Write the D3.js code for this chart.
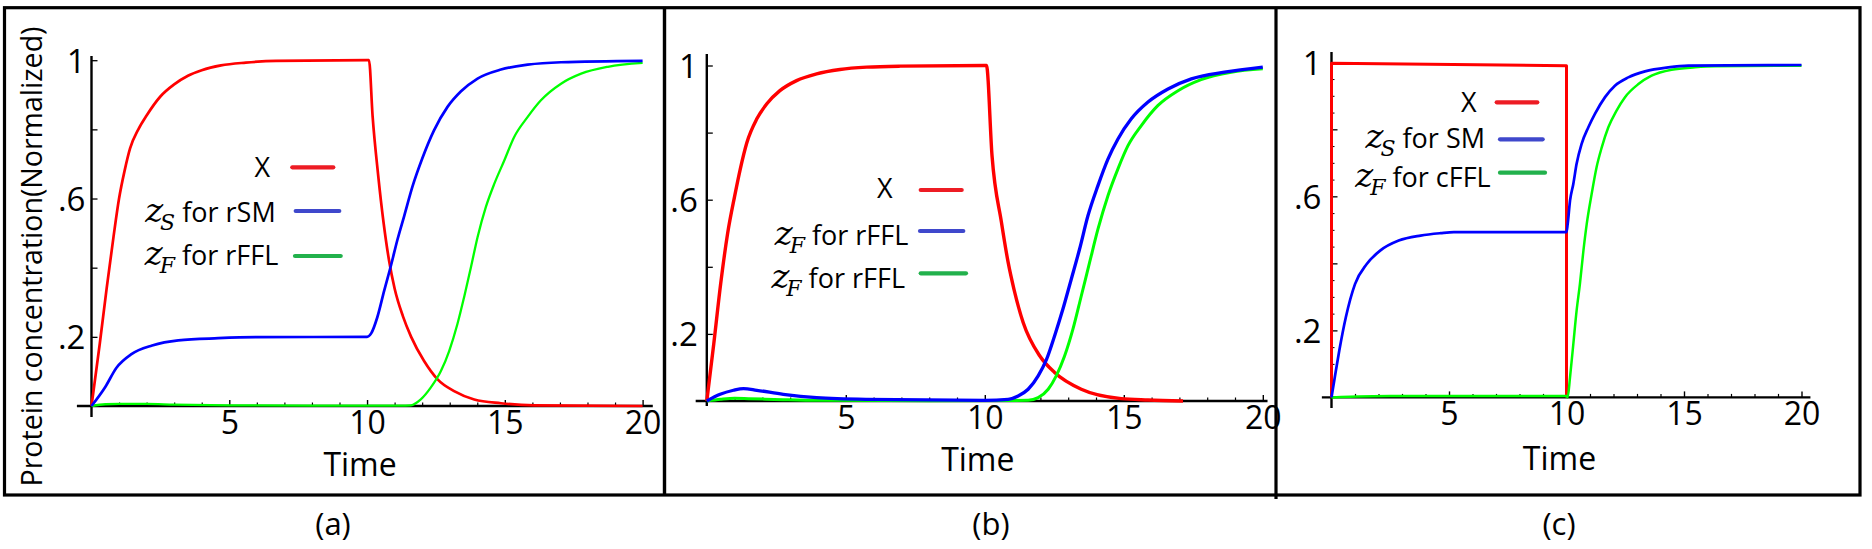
<!DOCTYPE html>
<html>
<head>
<meta charset="utf-8">
<script src="https://cdn.jsdelivr.net/npm/d3@7/dist/d3.min.js"></script>
<style>
  html, body { margin: 0; padding: 0; background: #fff; }
  svg { display: block; }
</style>
</head>
<body>
<script>
// ---------------- DATA ----------------
// Panel (a): X, Z_S for rSM, Z_F for rFFL   (time, normalized concentration)
const a_X = [[0,0],[0.3,0.18],[0.55,0.34],[0.8,0.49],[1.0,0.6],[1.2,0.68],[1.4,0.745],[1.7,0.8],[2.0,0.84],[2.5,0.895],[3.0,0.93],[3.5,0.955],[4.0,0.971],[4.7,0.985],[5.6,0.993],[6.7,0.998],[10,1.0],
  [10.07,1.0],[10.2,0.84],[10.4,0.67],[10.6,0.53],[10.8,0.42],[11.0,0.34],[11.3,0.26],[11.6,0.2],[12.07,0.13],[12.56,0.077],[13.16,0.043],[13.89,0.019],[14.86,0.008],[16.07,0.002],[20,0]];
const a_ZS = [[0,0],[0.5,0.055],[0.9,0.11],[1.45,0.15],[2.2,0.175],[3.15,0.19],[4.6,0.196],[6,0.199],[10,0.2],
  [10.15,0.21],[10.37,0.256],[10.62,0.333],[10.88,0.41],[11.1,0.48],[11.35,0.55],[11.65,0.635],[12.0,0.715],[12.43,0.797],[12.92,0.865],[13.41,0.91],[14.01,0.947],[14.86,0.973],[15.83,0.987],[17.04,0.994],[20,0.998]];
const a_ZF = [[0,0],[0.5,0.005],[1,0.006],[2,0.006],[3,0.004],[5,0.002],[8,0.001],[11.2,0.001],[11.59,0.002],[11.95,0.019],[12.31,0.053],[12.68,0.101],[12.98,0.159],[13.28,0.237],[13.52,0.314],[13.77,0.401],[14.01,0.488],[14.31,0.575],[14.62,0.643],[14.98,0.71],[15.34,0.778],[15.83,0.836],[16.31,0.884],[17.04,0.932],[17.77,0.961],[18.74,0.981],[20,0.992]];

// Panel (b): X, Z_F for rFFL (blue), Z_F for rFFL (green)
const b_X = [[0,0],[0.25,0.17],[0.5,0.35],[0.75,0.5],[1.0,0.61],[1.2,0.69],[1.44,0.77],[1.8,0.841],[2.16,0.886],[2.63,0.925],[3.23,0.955],[3.95,0.975],[4.79,0.988],[5.75,0.995],[6.95,0.998],[10,1.0],
  [10.06,1.0],[10.26,0.731],[10.6,0.532],[10.84,0.413],[11.05,0.333],[11.38,0.234],[11.98,0.134],[12.51,0.085],[13.47,0.035],[14.91,0.007],[15.87,0.003],[17.13,0.0]];
const b_ZF1 = [[0,0],[0.48,0.02],[0.96,0.032],[1.32,0.037],[1.8,0.032],[2.75,0.02],[3.95,0.01],[5.75,0.005],[10,0.002],
  [10.84,0.005],[11.2,0.015],[11.56,0.035],[11.92,0.075],[12.22,0.124],[12.51,0.194],[12.81,0.274],[13.11,0.363],[13.41,0.453],[13.71,0.552],[14.07,0.642],[14.43,0.721],[14.79,0.781],[15.27,0.841],[15.87,0.891],[16.59,0.93],[17.43,0.96],[18.62,0.98],[20,0.995]];
const b_ZF2 = [[0,0],[0.5,0.005],[1,0.008],[1.5,0.007],[2.75,0.004],[4,0.002],[8,0.001],[11.56,0.002],[11.92,0.01],[12.28,0.035],[12.57,0.075],[12.87,0.134],[13.17,0.214],[13.47,0.313],[13.77,0.413],[14.07,0.512],[14.43,0.612],[14.79,0.692],[15.15,0.761],[15.63,0.821],[16.23,0.881],[16.95,0.925],[17.78,0.958],[18.86,0.98],[20,0.99]];

// Panel (c): X (pulse), Z_S for SM, Z_F for cFFL
const c_X = [[0,0],[0,0.997],[10,0.99],[10,0]];
const c_ZS = [[0,0],[0.14,0.06],[0.33,0.139],[0.61,0.239],[1.0,0.338],[1.5,0.398],[2.07,0.438],[2.86,0.468],[3.79,0.483],[4.64,0.49],[5.21,0.493],[10,0.493],
  [10.05,0.517],[10.15,0.587],[10.29,0.637],[10.43,0.697],[10.64,0.756],[10.93,0.806],[11.21,0.846],[11.64,0.896],[12.06,0.93],[12.63,0.955],[13.34,0.973],[14.33,0.985],[15.18,0.99],[20,0.992]];
const c_ZF = [[0,0],[2.5,0.004],[10,0.004],[10.05,0.0],[10.15,0.06],[10.29,0.159],[10.43,0.259],[10.57,0.338],[10.72,0.438],[10.86,0.517],[11.07,0.607],[11.28,0.687],[11.5,0.746],[11.78,0.806],[12.13,0.856],[12.49,0.896],[13.06,0.935],[13.62,0.96],[14.47,0.978],[15.47,0.985],[16.32,0.988],[20,0.99]];

// Tick values / labels
const yTickVals = [0.2, 0.6, 1];
const yTickLabels = [".2", ".6", "1"];
const yMajorTicks = [0.2, 0.4, 0.6, 0.8, 1.0];
const xTickVals = [5, 10, 15, 20];
const xTickLabels = ["5", "10", "15", "20"];
const xMinorTicks = [1,2,3,4,6,7,8,9,11,12,13,14,16,17,18,19];

// Legend labels
const legendA = [{v:"X"}, {z:"z", sub:"S", rest:"for rSM"}, {z:"z", sub:"F", rest:"for rFFL"}];
const legendB = [{v:"X"}, {z:"z", sub:"F", rest:"for rFFL"}, {z:"z", sub:"F", rest:"for rFFL"}];
const legendC = [{v:"X"}, {z:"z", sub:"S", rest:"for SM"}, {z:"z", sub:"F", rest:"for cFFL"}];
const captions = ["(a)", "(b)", "(c)"];
const xTitle = "Time";
const yTitle = "Protein concentration(Normalized)";

// ---------------- STYLE / LAYOUT ----------------
const W = 1872, H = 549;
const curveCol = {X: "#ff0000", blue: "#0000ff", green: "#00ff00"};
const legendCol = ["#ed1c24", "#3f48cc", "#22b14c"];
const FONT = "'Open Sans', 'Noto Sans', sans-serif";
const MATH = "'DejaVu Serif', serif";

const panels = [
  { px:[91.5,642.6], py:[406,60.2], tExt:[-0.53,20.37], vExt:[-0.032,1.012], labPad:6, minorY:false,
    series:[{d:a_X,c:curveCol.X,w:2.7},{d:a_ZF,c:curveCol.green,w:2.3},{d:a_ZS,c:curveCol.blue,w:2.7}],
    legend:legendA, leg:[[270,176.7,292.3,333.3,167.3],[275.7,221.7,295.7,339.3,211],[278.3,265,295,340.7,256]],
    timeY:476, capX:333 },
  { px:[706.8,1262.8], py:[401,65.5], tExt:[-0.4,20.17], vExt:[-0.015,1.034], labPad:9, minorY:false,
    series:[{d:b_X,c:curveCol.X,w:3.4},{d:b_ZF2,c:curveCol.green,w:3},{d:b_ZF1,c:curveCol.blue,w:3.3}],
    legend:legendB, leg:[[892.7,198.3,920.7,961.7,190],[908.3,245,920,963.3,231],[905,288.3,920.7,966,273.3]],
    timeY:471, capX:991 },
  { px:[1331.5,1801.5], py:[397.4,62.3], tExt:[-0.41,20.38], vExt:[-0.032,1.031], labPad:10, minorY:true,
    series:[{d:c_X,c:curveCol.X,w:3,linear:true},{d:c_ZF,c:curveCol.green,w:2.5},{d:c_ZS,c:curveCol.blue,w:2.7}],
    legend:legendC, leg:[[1476.7,111.7,1496.7,1537.3,102.3],[1485,147.7,1500,1542.7,139.3],[1490.7,186.7,1500,1545,172.7]],
    timeY:470, capX:1559 }
];

const svg = d3.select("body").append("svg").attr("width", W).attr("height", H);
svg.append("rect").attr("width", W).attr("height", H).attr("fill", "#fff");

panels.forEach((p, i) => {
  const x = d3.scaleLinear().domain([0, 20]).range(p.px);
  const y = d3.scaleLinear().domain([0, 1]).range(p.py);
  const g = svg.append("g");

  // axis lines
  g.append("line").attr("x1", x(p.tExt[0])).attr("x2", x(p.tExt[1]))
    .attr("y1", y(0)).attr("y2", y(0)).attr("stroke", "#000").attr("stroke-width", 2.4);
  g.append("line").attr("x1", x(0)).attr("x2", x(0))
    .attr("y1", y(p.vExt[0])).attr("y2", y(p.vExt[1])).attr("stroke", "#000").attr("stroke-width", 2.4);

  // y ticks
  g.append("g").attr("transform", `translate(${x(0)},0)`)
    .call(d3.axisLeft(y).tickValues(yMajorTicks).tickSize(-6).tickFormat(""))
    .call(s => s.select(".domain").remove())
    .selectAll("line").attr("stroke", "#000").attr("stroke-width", 1.3);
  if (p.minorY) {
    const minorVals = d3.range(1, 20).map(k => k * 0.05).filter(v => Math.abs(v / 0.2 - Math.round(v / 0.2)) > 1e-6);
    g.append("g").attr("transform", `translate(${x(0)},0)`)
      .call(d3.axisLeft(y).tickValues(minorVals).tickSize(-3).tickFormat(""))
      .call(s => s.select(".domain").remove())
      .selectAll("line").attr("stroke", "#000").attr("stroke-width", 1);
  }
  g.append("g").attr("transform", `translate(${x(0)},0)`)
    .call(d3.axisLeft(y).tickValues(yTickVals).tickSize(0).tickPadding(p.labPad).tickFormat((d, k) => yTickLabels[k]))
    .call(s => s.select(".domain").remove())
    .selectAll("text").attr("font-family", FONT).attr("font-size", 33).attr("fill", "#000").attr("dy", "0.36em");

  // x ticks
  g.append("g").attr("transform", `translate(0,${y(0)})`)
    .call(d3.axisBottom(x).tickValues(xMinorTicks).tickSize(-3.5).tickFormat(""))
    .call(s => s.select(".domain").remove())
    .selectAll("line").attr("stroke", "#000").attr("stroke-width", 1.2);
  g.append("g").attr("transform", `translate(0,${y(0)})`)
    .call(d3.axisBottom(x).tickValues(xTickVals).tickSize(-6).tickPadding(0).tickFormat((d, k) => xTickLabels[k]))
    .call(s => s.select(".domain").remove())
    .call(s => s.selectAll("line").attr("stroke", "#000").attr("stroke-width", 1.4))
    .selectAll("text").attr("font-family", FONT).attr("font-size", 32).attr("fill", "#000")
    .attr("y", 27.5).attr("dy", 0);

  // curves
  p.series.forEach(s => {
    const line = d3.line().x(d => x(d[0])).y(d => y(d[1]))
      .curve(s.linear ? d3.curveLinear : d3.curveMonotoneX);
    g.append("path").attr("d", line(s.d)).attr("fill", "none")
      .attr("stroke", s.c).attr("stroke-width", s.w).attr("stroke-linejoin", "round");
  });

  // legend
  p.legend.forEach((L, k) => {
    const [tx, ty, sx1, sx2, sy] = p.leg[k];
    const t = g.append("text").attr("x", tx).attr("y", ty).attr("text-anchor", "end").attr("fill", "#000");
    if (L.v) {
      t.append("tspan").attr("font-family", FONT).attr("font-size", 27).text(L.v);
    } else {
      t.append("tspan").attr("font-family", MATH).attr("font-style", "italic").attr("font-size", 34).text(L.z);
      t.append("tspan").attr("font-family", MATH).attr("font-style", "italic").attr("font-size", 22)
        .attr("dx", -3).attr("dy", 8).text(L.sub);
      t.append("tspan").attr("font-family", FONT).attr("font-size", 27).attr("dy", -8)
        .text("\u00a0" + L.rest);
    }
    g.append("line").attr("x1", sx1).attr("x2", sx2).attr("y1", sy).attr("y2", sy)
      .attr("stroke", legendCol[k]).attr("stroke-width", 4.2).attr("stroke-linecap", "round");
  });

  // x title
  g.append("text").attr("x", x(10) - 7).attr("y", p.timeY).attr("text-anchor", "middle")
    .attr("font-family", FONT).attr("font-size", 32).attr("fill", "#000").text(xTitle);

  // caption
  svg.append("text").attr("x", p.capX).attr("y", 535).attr("text-anchor", "middle")
    .attr("font-family", FONT).attr("font-size", 31).attr("fill", "#000").text(captions[i]);
});

// y title (panel a)
svg.append("text").attr("transform", "translate(42,256.5) rotate(-90)")
  .attr("text-anchor", "middle").attr("font-family", FONT).attr("font-size", 29)
  .attr("textLength", 460).attr("lengthAdjust", "spacingAndGlyphs").attr("fill", "#000").text(yTitle);

// frame
svg.append("rect").attr("x", 4.5).attr("y", 7.7).attr("width", 1855.5).attr("height", 487.3)
  .attr("fill", "none").attr("stroke", "#000").attr("stroke-width", 3.2);
svg.append("line").attr("x1", 664.5).attr("x2", 664.5).attr("y1", 7.7).attr("y2", 495)
  .attr("stroke", "#000").attr("stroke-width", 3.4);
svg.append("line").attr("x1", 1276).attr("x2", 1276).attr("y1", 7.7).attr("y2", 499)
  .attr("stroke", "#000").attr("stroke-width", 3.2);
</script>
</body>
</html>
